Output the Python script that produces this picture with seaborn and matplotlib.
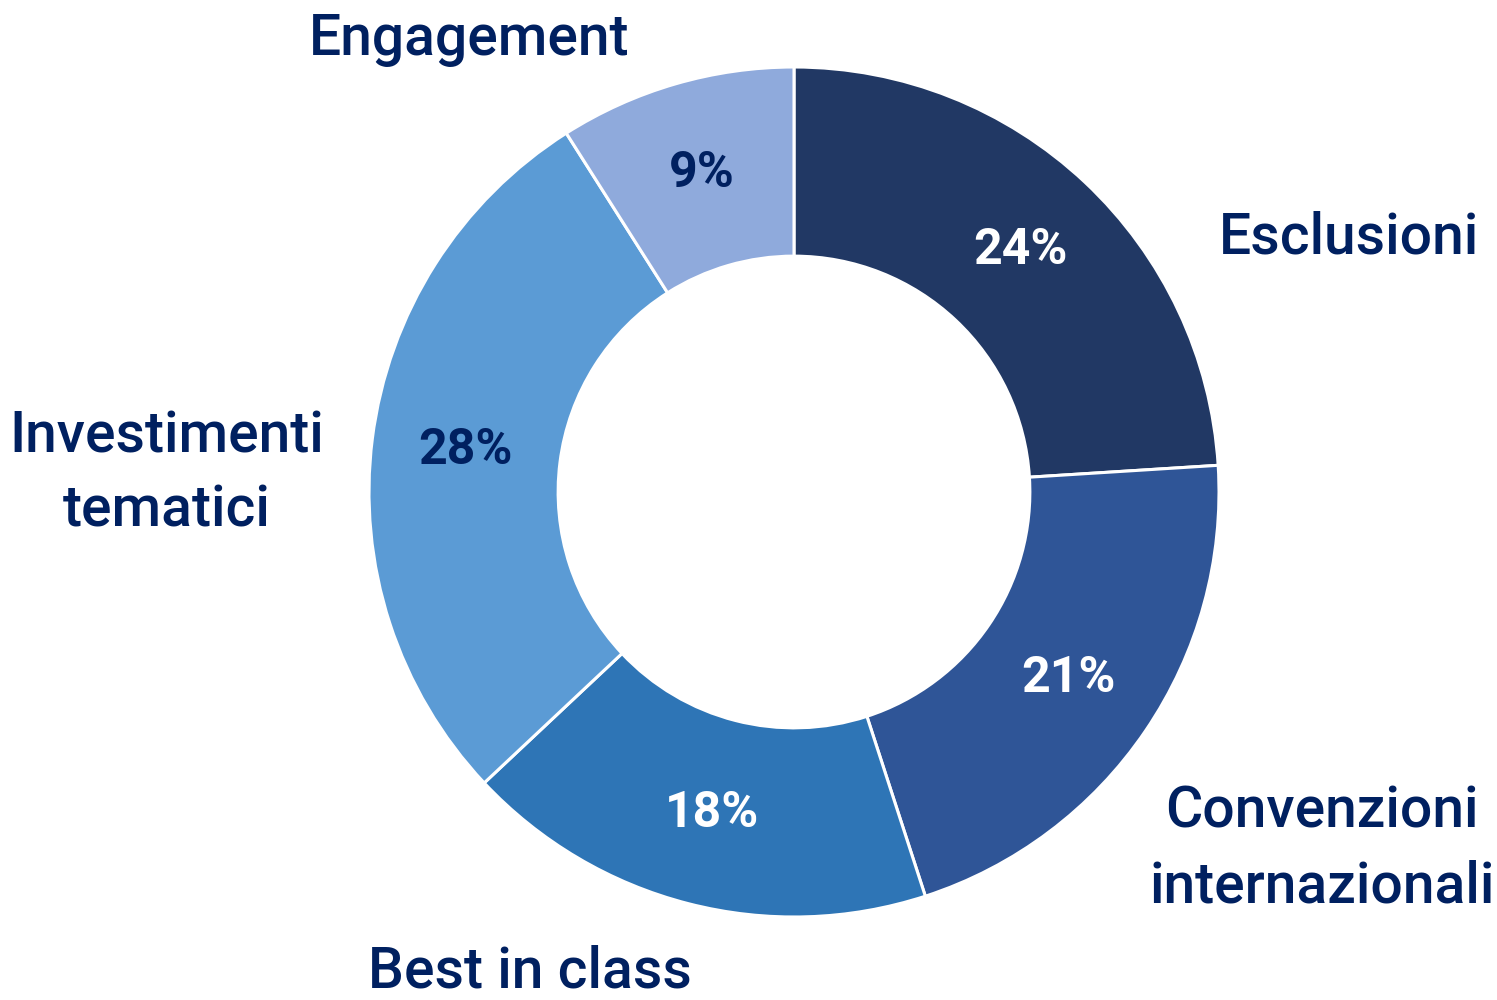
import matplotlib
matplotlib.use('Agg')
import matplotlib.pyplot as plt
import seaborn as sns

categories = ['Esclusioni', 'Convenzioni\ninternazionali', 'Best in class',
              'Investimenti\ntematici', 'Engagement']
shares = [24, 21, 18, 28, 9]
colors = ['#213864', '#2F5597', '#2E75B6', '#5B9BD5', '#8FAADC']
pct_colors = ['white', 'white', 'white', '#002060', '#002060']

sns.set_theme(style='white')
plt.rcParams['font.family'] = ['Roboto', 'DejaVu Sans']

text_color = '#002060'

fig = plt.figure(figsize=(14.97, 10), dpi=100)
ax = fig.add_axes([0, 0, 1, 1])

wedges, _, autotexts = ax.pie(
    shares, colors=colors, startangle=90, counterclock=False,
    radius=1, center=(0, 0),
    wedgeprops=dict(width=0.445, edgecolor='white', linewidth=2.2),
    autopct=lambda p: f'{p:.0f}%', pctdistance=0.78,
)
for t, c in zip(autotexts, pct_colors):
    t.set_color(c)
    t.set_fontsize(36)
    t.set_fontweight('bold')

# category labels placed around the ring (baseline of last line)
label_pos = [(1.306, 0.562), (1.242, -0.965), (-0.621, -1.167),
             (-1.475, -0.082), (-0.765, 1.028)]
for name, (x, y) in zip(categories, label_pos):
    ax.text(x, y, name, ha='center', va='baseline', fontsize=41,
            fontweight='medium', color=text_color, linespacing=1.45)

ax.set_xlim(-794 / 425, (1497 - 794) / 425)
ax.set_ylim(-(1000 - 492) / 425, 492 / 425)
ax.set_aspect('equal')
ax.axis('off')

fig.savefig('out.png', dpi=100)
